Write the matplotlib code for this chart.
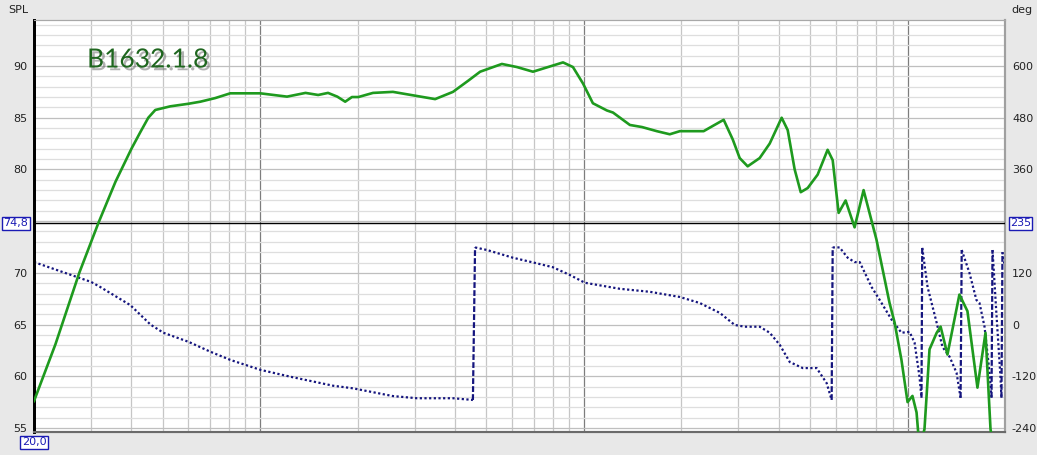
import numpy as np
import matplotlib
matplotlib.use('Agg')
import matplotlib.pyplot as plt
from matplotlib import patheffects as pe

# SPL curve (Hz, dB)
spl_freq = [20, 23.3, 27.6, 31.6, 35.7, 40, 42.6, 45.1, 47.4, 52.7, 60, 65.3,
            72.6, 80.8, 100, 121, 138, 151, 162, 173, 183, 192, 201, 223, 257,
            305, 347, 394, 440, 478, 558, 621, 696, 862, 925, 994, 1066, 1178,
            1230, 1387, 1511, 1680, 1842, 1979, 2201, 2344, 2500, 2703, 2883,
            3029, 3206, 3492, 3750, 4083, 4263, 4479, 4677, 4913, 5275, 5662,
            5870, 6124, 6435, 6860, 7313, 8017, 8795, 9117, 9572, 10000, 10354,
            10660, 10890, 11280, 11690, 12300, 12650, 13280, 14460, 15310,
            16440, 17410, 18040, 19920]
spl_db = [57.6, 63.1, 70.0, 74.8, 78.8, 82.0, 83.6, 85.0, 85.75, 86.1, 86.35,
          86.55, 86.9, 87.36, 87.36, 87.04, 87.4, 87.2, 87.4, 87.04, 86.55,
          87.0, 87.0, 87.4, 87.5, 87.1, 86.8, 87.5, 88.6, 89.45, 90.2, 89.9,
          89.45, 90.35, 89.9, 88.3, 86.4, 85.7, 85.5, 84.3, 84.1, 83.7, 83.4,
          83.7, 83.7, 83.7, 84.2, 84.8, 82.9, 81.1, 80.3, 81.1, 82.5, 85.0,
          83.8, 80.0, 77.8, 78.2, 79.5, 81.9, 80.9, 75.8, 77.0, 74.4, 78.0,
          73.2, 67.1, 65.2, 61.6, 57.5, 58.1, 56.5, 53.0, 54.9, 62.6, 64.2,
          64.8, 62.1, 67.9, 66.3, 58.9, 64.2, 54.9, 45.0]

# wrapped phase (Hz, degrees)
phase_freq = [20, 30, 31.9, 39.7, 45.8, 50.2, 60, 70.1, 80.8, 100, 123.8, 168,
              193.5, 257, 305, 394, 454, 461, 502, 604, 707, 802, 905, 1007,
              1291, 1599, 1979, 2280, 2630, 2925, 3140, 3493, 3750, 4028, 4325,
              4745, 5237, 5624, 5827, 5870, 6166, 6533, 6860, 7114, 7744, 8203,
              8933, 9572, 10143, 10510, 10890, 11040, 11100, 11530, 12300,
              12820, 13490, 14170, 14580, 14700, 15530, 16320, 16680, 17290,
              17920, 18170, 18300, 18840, 19370, 19500, 19640, 19920]
phase_deg = [145, 99, 88, 45, 0, -19, -40, -63, -82, -105, -121, -142, -148,
             -166, -171, -171, -175, 179, 173, 155, 143, 133, 115, 97, 83, 76,
             64, 50, 27, -1, -5, -5, -19, -47, -87, -101, -101, -136, -175, 179,
             179, 155, 145, 145, 87, 57, 11, -19, -17, -42, -122, -170, 178, 87,
             4, -52, -75, -112, -170, 173, 120, 57, 50, -5, -112, -170, 173, 18,
             -122, -170, 168, 140]

xticks = [30, 40, 50, 60, 70, 80, 100, 200, 300, 400, 500, 600, 800,
          1000, 2000, 3000, 4000, 5000, 6000, 7000, 8000, 10000, 20000]
xlabels = ['30', '40', '50', '60', '70', '80', '100', '200', '300', '400',
           '500', '600', '800', '1k', '2k', '3k', '4k', '5k', '6k', '7k', '8k',
           '10k', '20kHz']
spl_ticks = [55, 60, 65, 70, 80, 85, 90]
deg_ticks = [-240, -120, 0, 120, 360, 480, 600]
cursor_spl = 74.8
cursor_freq = 20.0

plt.rcParams['font.family'] = ['DejaVu Sans']
plt.rcParams['font.size'] = 8

W, H = 1037, 455
fig = plt.figure(figsize=(W / 100, H / 100), dpi=100, facecolor='#e8e8e8')
rect = [34 / W, 1 - 432 / H, (1005 - 34) / W, (432 - 20) / H]
ax2 = fig.add_axes(rect)          # phase axis, at the back
ax = ax2.twinx()                  # spl axis, drawn on top
ax.yaxis.tick_left()
ax2.yaxis.tick_right()
ax.set_zorder(ax2.get_zorder() + 1)
ax.patch.set_visible(False)
ax2.set_facecolor('white')

ylo, yhi = 54.61, 94.45
ax.set_xscale('log')
ax.set_xlim(20, 20000)
ax.set_ylim(ylo, yhi)
ax2.set_ylim((ylo - 65) * 24, (yhi - 65) * 24)

# grid on the back axes
for dec in (10, 100, 1000, 10000):
    for k in range(1, 10):
        f = k * dec
        if f < 20 or f > 20000:
            continue
        c = '#7d7d7d' if k == 1 else '#c6c6c6'
        ax2.axvline(f, color=c, lw=0.9, zorder=0)
for v in range(55, 95):
    c = '#bfbfbf' if v % 5 == 0 else '#dedede'
    ax2.axhline((v - 65) * 24, color=c, lw=0.9, zorder=0)

# phase: dotted, wraps drawn dashed
pf = np.array(phase_freq, dtype=float)
pd = np.array(phase_deg, dtype=float)
jumps = np.where(np.abs(np.diff(pd)) > 180)[0]
navy = '#15157e'
ax2.plot(np.insert(pf, jumps + 1, np.nan), np.insert(pd, jumps + 1, np.nan),
         color=navy, lw=1.6, ls=(0, (1, 1.1)), dash_capstyle='butt', zorder=3)
for i in jumps:
    ax2.plot(pf[i:i + 2], pd[i:i + 2], color=navy, lw=1.6,
             ls=(0, (2.6, 1)), dash_capstyle='butt', zorder=3)

ax.plot(spl_freq, spl_db, color='#1e9a1e', lw=1.9, zorder=5)
ax.axhline(cursor_spl, color='black', lw=1.0, zorder=4)

ax.set_xticks(xticks)
ax.set_xticklabels(xlabels)
ax.xaxis.set_minor_locator(plt.NullLocator())
ax2.xaxis.set_minor_locator(plt.NullLocator())
ax2.set_xticks([])
ax.set_yticks(spl_ticks)
ax.set_yticklabels([str(t) for t in spl_ticks])
ax2.set_yticks(deg_ticks)
ax2.set_yticklabels([str(t) for t in deg_ticks])
ax.tick_params(axis='x', length=0, pad=5, colors='#222222')
ax.tick_params(axis='y', length=0, pad=5, colors='#222222')
ax2.tick_params(axis='y', length=0, pad=5, colors='#222222')

for a in (ax, ax2):
    a.spines['top'].set_color('#a8a8a8')
    a.spines['right'].set_color('#a0a0a0')
    a.spines['right'].set_linewidth(1.5)
    a.spines['bottom'].set_color('#6a6a6a')
    a.spines['bottom'].set_linewidth(1.5)
    a.spines['left'].set_color('black')
    a.spines['left'].set_linewidth(2)

box = dict(boxstyle='square,pad=0.12', fc='white', ec='#1a1ab4', lw=1)
ax.text(-0.006, cursor_spl, '74,8', transform=ax.get_yaxis_transform(),
        ha='right', va='center', color='#1a1ab4', bbox=box)
ax.text(cursor_freq, -0.013, '20,0', transform=ax.get_xaxis_transform(),
        ha='center', va='top', color='#1a1ab4', bbox=box)
ax2.text(1.005, (cursor_spl - 65) * 24, '235',
         transform=ax2.get_yaxis_transform(), ha='left', va='center',
         color='#1a1ab4', bbox=box)

fig.text(8 / W, 1 - 10 / H, 'SPL', ha='left', va='center', color='#222222')
fig.text(1011 / W, 1 - 10 / H, 'deg', ha='left', va='center', color='#222222')

ax.text(0.0546, 0.903, 'B1632.1.8', transform=ax.transAxes, fontsize=19,
        family='Lato', color='#1f661f', va='center', ha='left', zorder=6,
        path_effects=[pe.withSimplePatchShadow(offset=(2, -2),
                                               shadow_rgbFace='#555555',
                                               alpha=0.45)])

fig.savefig('out.png', dpi=100, facecolor=fig.get_facecolor())
